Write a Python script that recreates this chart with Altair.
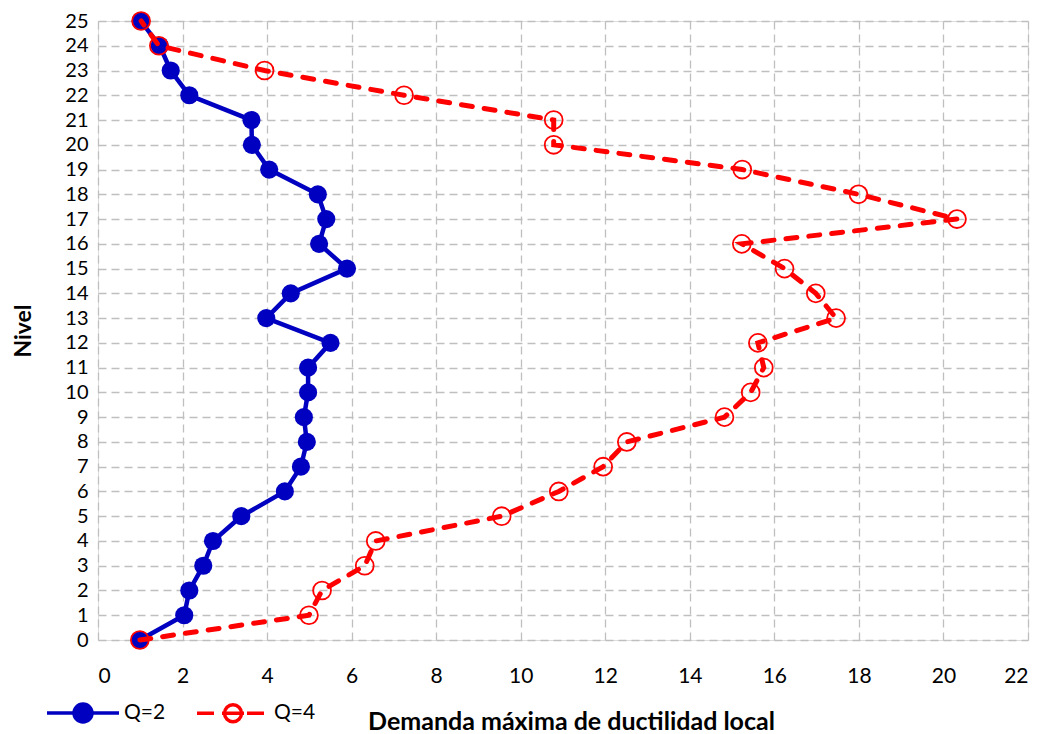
import altair as alt
import pandas as pd

niveles = list(range(26))
q2 = [0.99, 2.04, 2.16, 2.49, 2.72, 3.39, 4.42, 4.80, 4.94, 4.87, 4.97, 4.97, 5.50,
      3.98, 4.56, 5.89, 5.23, 5.40, 5.20, 4.05, 3.64, 3.63, 2.16, 1.72, 1.46, 1.01]
q4 = [0.99, 4.99, 5.30, 6.31, 6.57, 9.55, 10.90, 11.95, 12.51, 14.82, 15.44, 15.75, 15.61,
      17.46, 16.98, 16.24, 15.23, 20.32, 17.99, 15.24, 10.78, 10.78, 7.24, 3.94, 1.44, 1.02]
series = ["Q=2", "Q=4"]
x_ticks = list(range(0, 23, 2))
y_ticks = list(range(0, 26))

BLUE = "#0000C0"
RED = "#FF0000"
FONT = "Lato"

rows = []
for n, a, b in zip(niveles, q2, q4):
    rows.append({"Nivel": n, "Demanda": a, "Serie": "Q=2"})
    rows.append({"Nivel": n, "Demanda": b, "Serie": "Q=4"})
df = pd.DataFrame(rows)

PLOT_H = 619

x_enc = alt.X("Demanda:Q",
              scale=alt.Scale(domain=[0, 22], nice=False, zero=False),
              axis=alt.Axis(values=x_ticks, title="Demanda máxima de ductilidad local",
                            titleFontWeight="bold", titleFontSize=25, titleFont=FONT,
                            titleColor="black", titleX=473, titleY=89,
                            titleBaseline="alphabetic", titleAlign="center",
                            labelFontSize=21, labelFont=FONT, labelColor="black",
                            labelPadding=25, ticks=False, domain=False,
                            grid=True, gridDash=[8, 5], gridColor="#BFBFBF", gridWidth=1.3))
y_enc = alt.Y("Nivel:Q",
              scale=alt.Scale(domain=[0, 25], nice=False, zero=False),
              axis=alt.Axis(values=y_ticks, title="Nivel",
                            titleFontWeight="bold", titleFontSize=23, titleFont=FONT,
                            titleColor="black", titleX=-75, titleY=PLOT_H / 2, titleAngle=270,
                            titleBaseline="middle", titleAlign="center",
                            labelFontSize=20, labelFont=FONT, labelColor="black",
                            labelPadding=10, ticks=False, domain=False,
                            grid=True, gridDash=[8, 5], gridColor="#BFBFBF", gridWidth=1.3))
order = alt.Order("Nivel:Q")

base = alt.Chart(df)

line2 = base.transform_filter(alt.datum.Serie == "Q=2").mark_line(
    color=BLUE, strokeWidth=4.5).encode(x=x_enc, y=y_enc, order=order)
pts2 = base.transform_filter(alt.datum.Serie == "Q=2").mark_point(
    filled=True, color=BLUE, size=330, opacity=1).encode(x=x_enc, y=y_enc)
line4 = base.transform_filter(alt.datum.Serie == "Q=4").mark_line(
    color=RED, strokeWidth=5, strokeDash=[11, 12], strokeCap="round").encode(
    x=x_enc, y=y_enc, order=order)
pts4 = base.transform_filter(alt.datum.Serie == "Q=4").mark_point(
    filled=False, stroke=RED, fill="transparent", strokeWidth=1.8, size=320, opacity=1).encode(
    x=x_enc, y=y_enc)

blue_sym = "M-3.6,0L3.6,0M-0.9,0A0.9,0.9,0,1,1,0.9,0A0.9,0.9,0,1,1,-0.9,0Z"
red_sym = ("M-3.6,0L-1.9,0M-1.1,0L1.1,0M1.4,0L3.1,0"
           "M-0.85,0A0.85,0.85,0,1,1,0.85,0A0.85,0.85,0,1,1,-0.85,0Z")

legend = alt.Legend(title=None, orient="none", legendX=-27, legendY=PLOT_H + 61,
                    direction="horizontal", symbolSize=400, symbolStrokeWidth=3.5,
                    symbolOpacity=1, labelFontSize=21, labelFont=FONT, labelColor="black",
                    labelOffset=29, columnPadding=24)

legend_layer = base.mark_point(opacity=0, filled=False).encode(
    x=x_enc, y=y_enc,
    stroke=alt.Stroke("Serie:N", scale=alt.Scale(domain=series, range=[BLUE, RED]), legend=legend),
    fill=alt.Fill("Serie:N", scale=alt.Scale(domain=series, range=[BLUE, "transparent"]), legend=legend),
    shape=alt.Shape("Serie:N", scale=alt.Scale(domain=series, range=[blue_sym, red_sym]), legend=legend),
)

chart = alt.layer(legend_layer, line2, pts2, line4, pts4).properties(
    width=930, height=PLOT_H,
    autosize=alt.AutoSizeParams(type="none"),
    padding={"left": 90, "top": 13, "right": 10, "bottom": 100},
).configure_view(stroke="black", strokeWidth=2).configure(background="white")

chart.save("out.html", embed_options={"renderer": "svg", "actions": False})
